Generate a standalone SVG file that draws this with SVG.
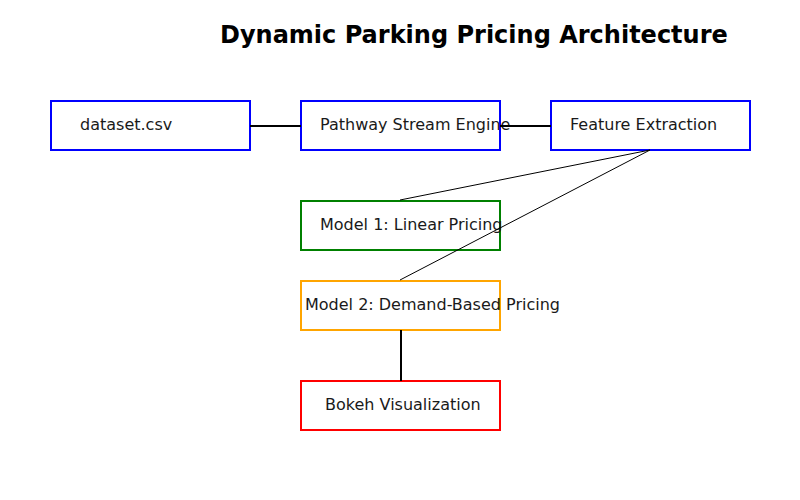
<svg xmlns="http://www.w3.org/2000/svg" width="800" height="500" viewBox="0 0 800 500">
<style>
text{font-family:"DejaVu Sans",sans-serif;font-size:16px;fill:#1a1a1a}
.title{font-weight:bold;font-size:24px;fill:#000}
rect{fill:#fff;stroke-width:2}
.c{stroke:#000;fill:none}
</style>
<rect width="800" height="500" fill="#fff" style="stroke:none"/>
<text class="title" x="220" y="43">Dynamic Parking Pricing Architecture</text>
<g id="dataset"><rect x="51" y="101" width="199" height="49" stroke="#0000ff"/><text x="80" y="130">dataset.csv</text></g>
<g id="pathway"><rect x="301" y="101" width="199" height="49" stroke="#0000ff"/><text x="320" y="130">Pathway Stream Engine</text></g>
<g id="feature"><rect x="551" y="101" width="199" height="49" stroke="#0000ff"/><text x="570" y="130">Feature Extraction</text></g>
<g id="model1"><rect x="301" y="201" width="199" height="49" stroke="#008000"/><text x="320" y="230">Model 1: Linear Pricing</text></g>
<g id="model2"><rect x="301" y="281" width="199" height="49" stroke="#ffa500"/><text x="305" y="310">Model 2: Demand-Based Pricing</text></g>
<g id="bokeh"><rect x="301" y="381" width="199" height="49" stroke="#ff0000"/><text x="325" y="410">Bokeh Visualization</text></g>
<g id="connectors">
<line class="c" x1="250" y1="126" x2="301" y2="126" stroke-width="2"/>
<line class="c" x1="500" y1="126" x2="551" y2="126" stroke-width="2"/>
<line class="c" x1="650" y1="150" x2="400" y2="200" stroke-width="1"/>
<line class="c" x1="650" y1="150" x2="400" y2="280" stroke-width="1"/>
<line class="c" x1="401" y1="330" x2="401" y2="381" stroke-width="2"/>
</g>
</svg>
